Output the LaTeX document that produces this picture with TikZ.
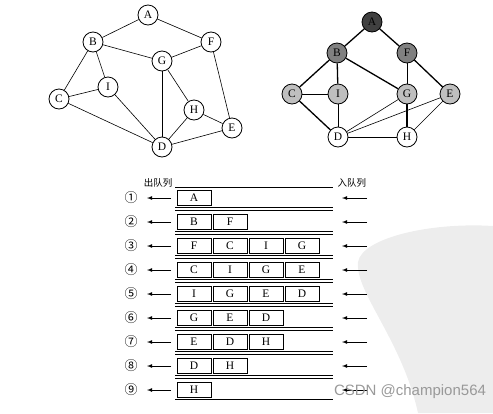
\documentclass[tikz,border=0pt]{standalone}
\usepackage{fontspec}
\setmainfont{Liberation Serif}
\newfontfamily\cjk{Noto Sans CJK SC}
\newfontfamily\wmfont{Liberation Sans}
\usetikzlibrary{arrows}

\begin{document}
\begin{tikzpicture}[x=1pt,y=-1pt,
  vert/.style={circle,draw,line width=0.8pt,minimum size=20pt,inner sep=0pt,font=\fontsize{11.5}{12}\selectfont},
  tree/.style={line width=1.3pt},
  cross/.style={line width=0.6pt},
  cell/.style={draw,line width=0.7pt,minimum width=34pt,minimum height=15pt,inner sep=0pt,font=\fontsize{11.5}{12}\selectfont},
  rail/.style={line width=1pt}]
\useasboundingbox (0,0) rectangle (493,413);

% watermark
\fill[black!7] (493,226) .. controls (430,222) and (362,238) .. (358,262)
  .. controls (355,292) and (402,340) .. (418,413) -- (493,413) -- cycle;

% the graph
\node[vert] (A) at (148,15) {A};
\node[vert] (B) at (93,42) {B};
\node[vert] (F) at (211,42) {F};
\node[vert] (G) at (162,61) {G};
\node[vert] (I) at (108,87) {I};
\node[vert] (C) at (59,99) {C};
\node[vert] (H) at (194,110) {H};
\node[vert] (E) at (232,128) {E};
\node[vert] (D) at (162,147) {D};

\path[cross] (A) edge (B) edge (F)
  (B) edge (G) edge (I) edge (C)
  (F) edge (G) edge (E)
  (C) edge (I) edge (D)
  (I) edge (D)
  (G) edge (D) edge (H)
  (H) edge (D) edge (E)
  (D) edge (E);

% breadth first traversal
\node[vert,fill=black!75] (a) at (372,22) {A};
\node[vert,fill=black!50] (b) at (337,53) {B};
\node[vert,fill=black!50] (f) at (407,53) {F};
\node[vert,fill=black!25] (c) at (292,94) {C};
\node[vert,fill=black!25] (i) at (338,94) {I};
\node[vert,fill=black!25] (g) at (407,94) {G};
\node[vert,fill=black!25] (e) at (450,94) {E};
\node[vert] (d) at (338,137) {D};
\node[vert] (h) at (407,137) {H};

\path[tree] (a) edge (b) edge (f)
  (b) edge (c) edge (i) edge (g)
  (f) edge (e)
  (c) edge (d)
  (g) edge (h);
\path[cross] (f) edge (g)
  (c) edge (i)
  (i) edge (d)
  (g) edge (d)
  (e) edge (d) edge (h)
  (d) edge (h);

% the queue
\node[font=\cjk\fontsize{9.5}{10}\selectfont,anchor=east] (out) at (176,183) {出队列};
\node[font=\cjk\fontsize{9.5}{10}\selectfont,anchor=west] (in) at (334,183) {入队列};
\coordinate (t0) at (175,187);
\coordinate (t1) at (333,187);
\draw[rail] (t0) -- (t1);

\foreach \n/\num/\items in {1/①/{A},2/②/{B,F},3/③/{F,C,I,G},4/④/{C,I,G,E},
    5/⑤/{I,G,E,D},6/⑥/{G,E,D},7/⑦/{E,D,H},8/⑧/{D,H},9/⑨/{H}}
{
  \pgfmathsetmacro{\y}{198+24*(\n-1)}
  \node[font=\cjk\fontsize{13}{14}\selectfont] (q\n) at (131,\y) {\num};
  \coordinate (ls\n) at (171,\y);
  \coordinate (le\n) at (147,\y);
  \coordinate (rs\n) at (367,\y);
  \coordinate (re\n) at (342,\y);
  \draw[-latex,line width=0.8pt] (ls\n) -- (le\n);
  \draw[-latex,line width=0.8pt] (rs\n) -- (re\n);
  \foreach \x [count=\k] in \items
    \node[cell] (c\n\k) at (194+36*\k-36,\y) {\x};
  \coordinate (b\n l) at (175,\y+9.5);
  \coordinate (b\n r) at (333,\y+9.5);
  \draw[rail] (b\n l) -- (b\n r);
  \ifnum\n<9
    \coordinate (u\n l) at (175,\y+12.5);
    \coordinate (u\n r) at (333,\y+12.5);
    \draw[rail] (u\n l) -- (u\n r);
  \fi
}

\node[font=\wmfont\fontsize{15}{16}\selectfont,text=black!40] (mark) at (410,392) {CSDN @champion564};
\end{tikzpicture}
\end{document}
